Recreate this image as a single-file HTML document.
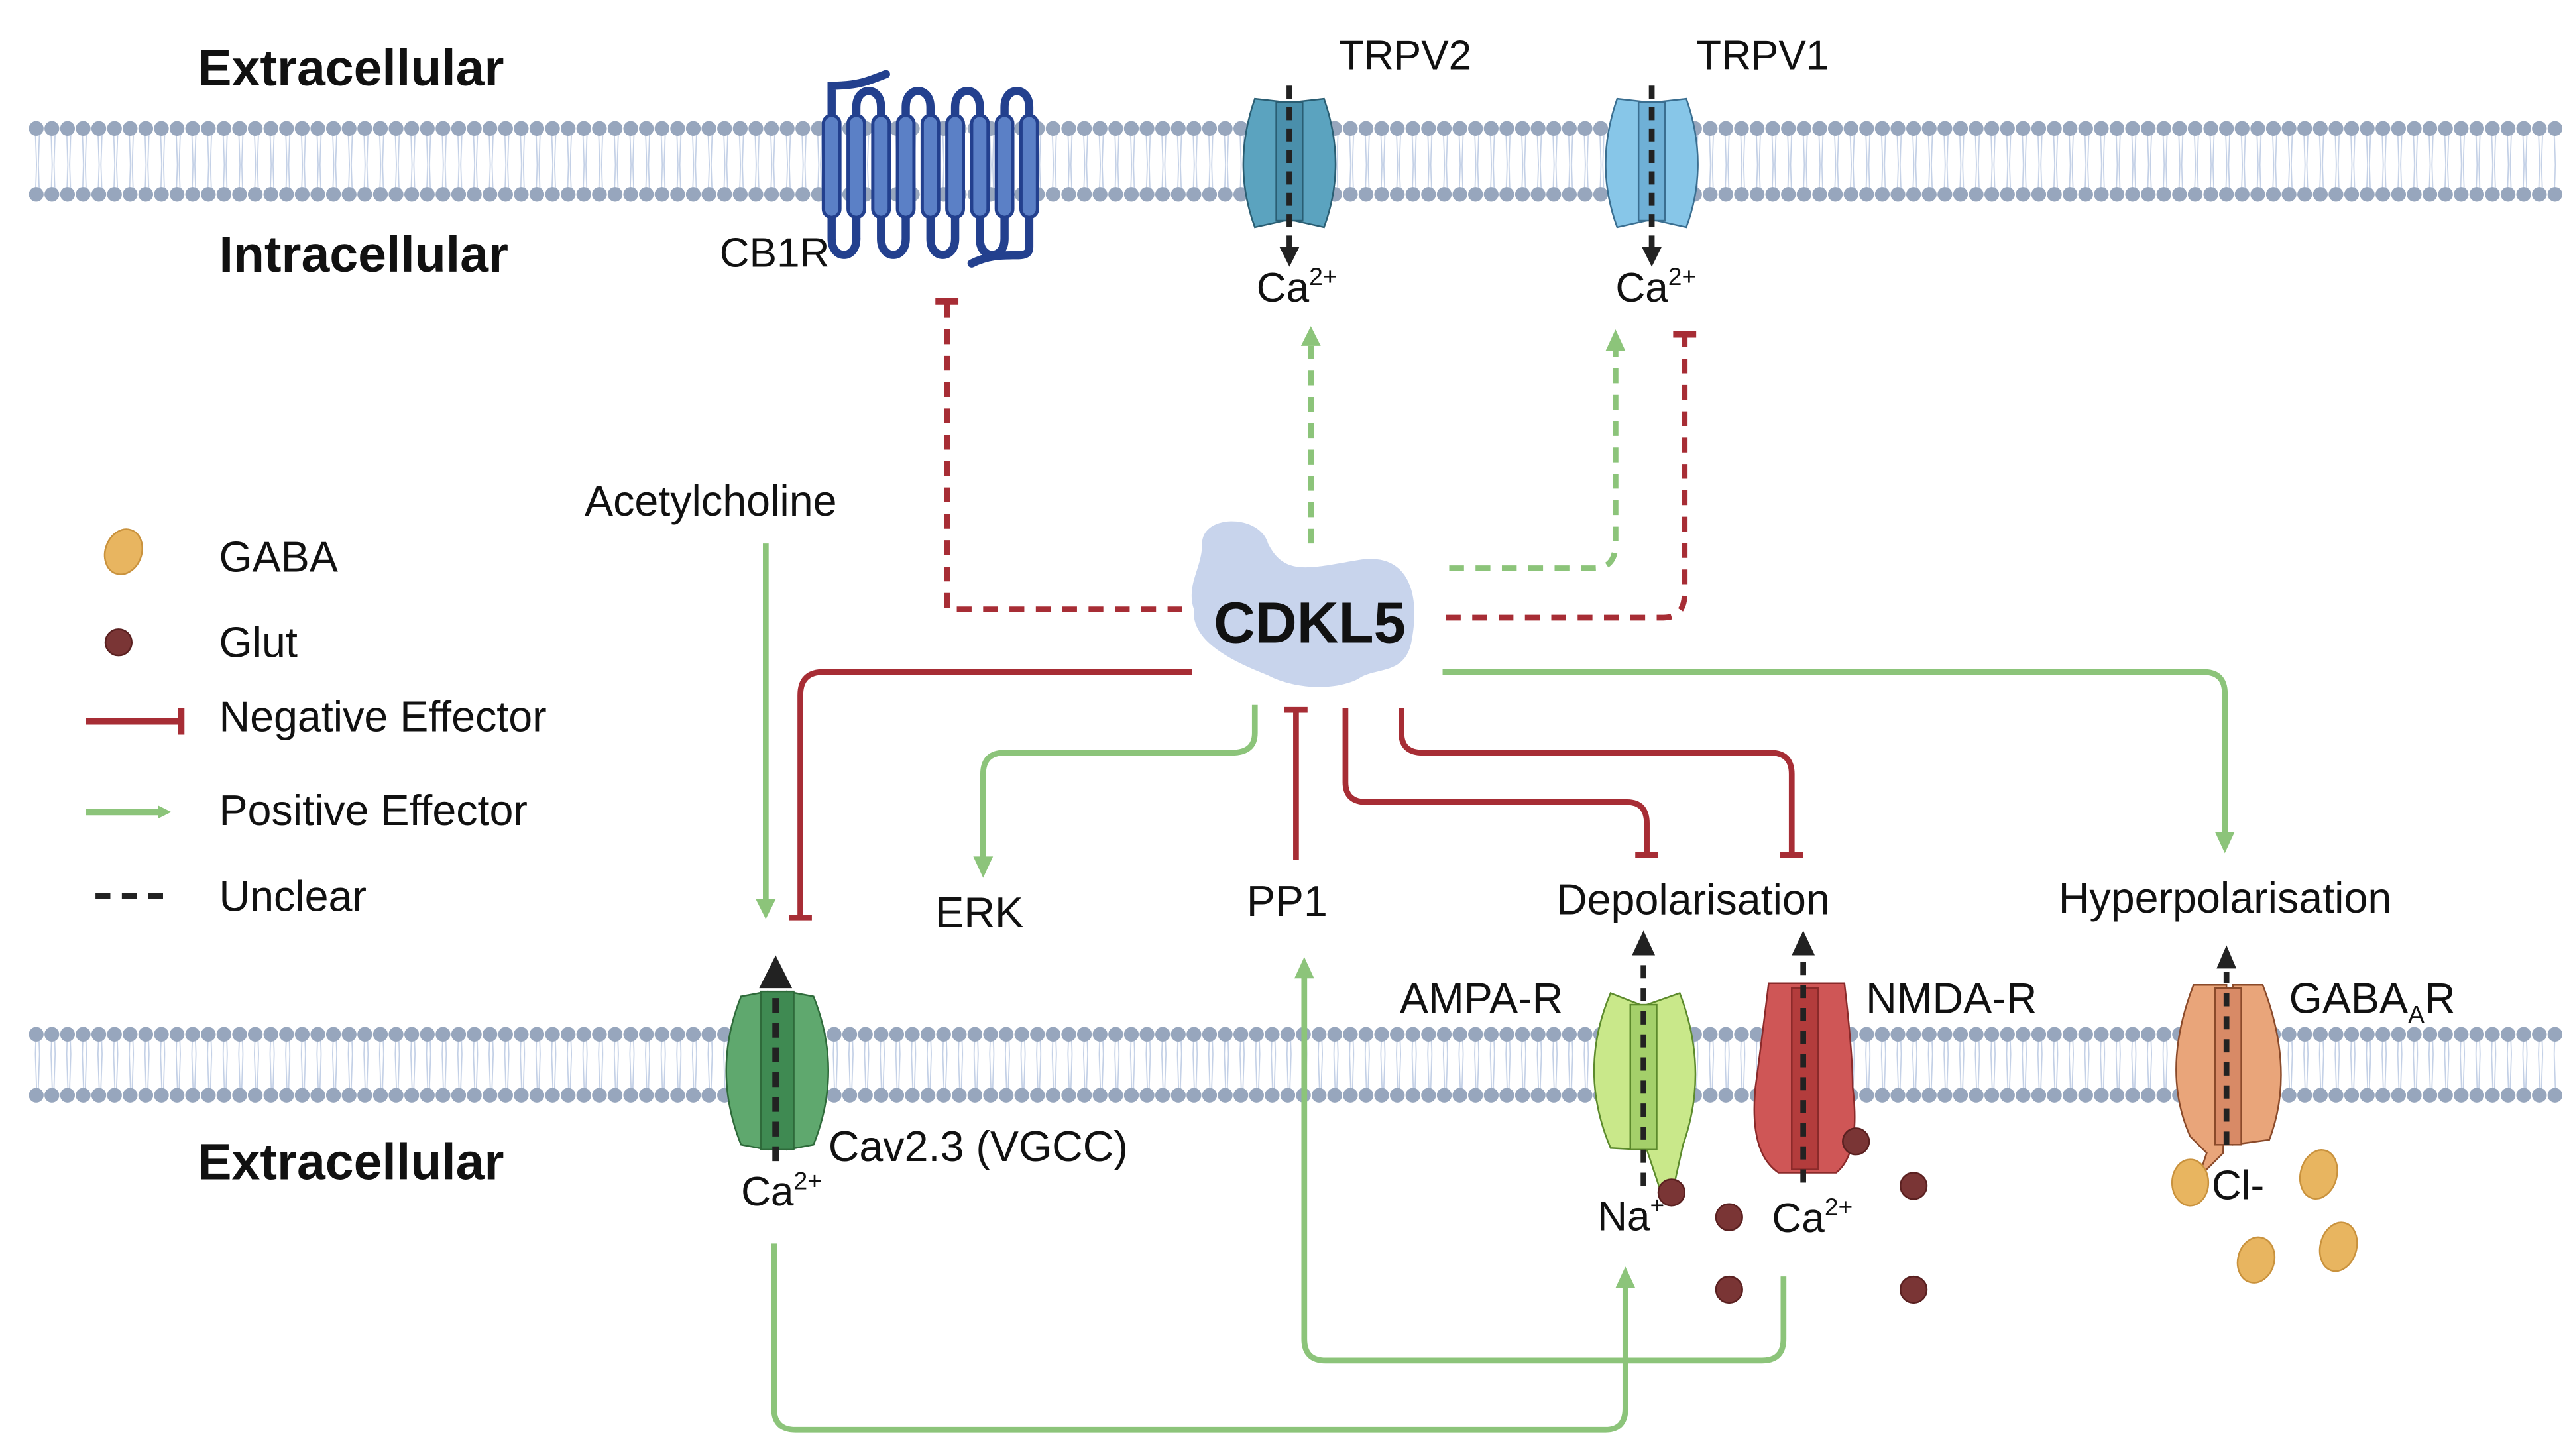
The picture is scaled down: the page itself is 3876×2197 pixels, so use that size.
<!DOCTYPE html>
<html><head><meta charset="utf-8"><style>
html,body{margin:0;padding:0;background:#fff;}
svg{display:block;}
text{font-family:"Liberation Sans",sans-serif;fill:#111;}
.b{font-weight:bold;}
</style></head><body>
<svg width="3876" height="2197" viewBox="0 0 1560 884" preserveAspectRatio="none" xmlns="http://www.w3.org/2000/svg">
<defs>
<pattern id="tails" x="18" y="0" width="9.5" height="40" patternUnits="userSpaceOnUse">
<path d="M3.5 0 L4.2 20 L3.5 40 M6 0 L5.3 20 L6 40" stroke="#c3d0e6" stroke-width="0.7" fill="none"/>
</pattern>
<marker id="ga" markerWidth="8" markerHeight="8" refX="4" refY="4" orient="auto" markerUnits="userSpaceOnUse" viewBox="0 0 8 8"><path d="M0 0 L8 4 L0 8 Z" fill="#8cc47a"/></marker>
</defs>

<!-- membranes -->
<rect x="18" y="82" width="1534" height="34" fill="url(#tails)"/>
<line x1="22" y1="78" x2="1552" y2="78" stroke="#97a6bd" stroke-width="9" stroke-linecap="round" stroke-dasharray="0 9.5"/>
<line x1="22" y1="118" x2="1552" y2="118" stroke="#97a6bd" stroke-width="9" stroke-linecap="round" stroke-dasharray="0 9.5"/>
<rect x="18" y="630" width="1534" height="34" fill="url(#tails)"/>
<line x1="22" y1="628" x2="1552" y2="628" stroke="#97a6bd" stroke-width="9" stroke-linecap="round" stroke-dasharray="0 9.5"/>
<line x1="22" y1="665" x2="1552" y2="665" stroke="#97a6bd" stroke-width="9" stroke-linecap="round" stroke-dasharray="0 9.5"/>

<!-- region labels -->
<text x="120" y="52" font-size="31" class="b">Extracellular</text>
<text x="133" y="165" font-size="31" class="b">Intracellular</text>
<text x="120" y="716" font-size="31" class="b">Extracellular</text>

<!-- CB1R -->
<g fill="none" stroke="#23408e" stroke-width="5" stroke-linecap="round">
<path d="M538 45 C525 50 520 52 505 52 L505 145 C505 158 520 158 520 145"/>
<path d="M520 145 L520 65 C520 52 535 52 535 65 L535 145 C535 158 550 158 550 145 L550 65 C550 52 565 52 565 65 L565 145 C565 158 580 158 580 145 L580 65 C580 52 595 52 595 65 L595 145 C595 158 610 158 610 145 L610 65 C610 52 625 52 625 65 L625 150 C625 160 610 150 590 160"/>
</g>
<g fill="#5b80c6" stroke="#23408e" stroke-width="2">
<rect x="500" y="70" width="10" height="62" rx="5"/><rect x="515" y="70" width="10" height="62" rx="5"/>
<rect x="530" y="70" width="10" height="62" rx="5"/><rect x="545" y="70" width="10" height="62" rx="5"/>
<rect x="560" y="70" width="10" height="62" rx="5"/><rect x="575" y="70" width="10" height="62" rx="5"/>
<rect x="590" y="70" width="10" height="62" rx="5"/><rect x="605" y="70" width="10" height="62" rx="5"/>
<rect x="620" y="70" width="10" height="62" rx="5"/>
</g>
<text x="437" y="162" font-size="25">CB1R</text>

<!-- TRPV2 -->
<g stroke="#2a5e73" stroke-width="1">
<path d="M762 60 Q748 100 762 138 L780 134 L780 62 Z" fill="#5ba3bf"/>
<path d="M804 60 Q818 100 804 138 L786 134 L786 62 Z" fill="#5ba3bf"/>
<rect x="775" y="62" width="16" height="72" fill="#4a8fab"/>
</g>
<line x1="783" y1="52" x2="783" y2="150" stroke="#222" stroke-width="3.5" stroke-dasharray="8 5"/>
<path d="M777 150 L783 162 L789 150 Z" fill="#222"/>
<text x="813" y="42" font-size="25">TRPV2</text>
<text x="763" y="183" font-size="25">Ca<tspan font-size="15" dy="-10">2+</tspan></text>

<!-- TRPV1 -->
<g stroke="#3a6e90" stroke-width="1">
<path d="M982 60 Q968 100 982 138 L1000 134 L1000 62 Z" fill="#87c6e8"/>
<path d="M1024 60 Q1038 100 1024 138 L1006 134 L1006 62 Z" fill="#87c6e8"/>
<rect x="995" y="62" width="16" height="72" fill="#6fb0d6"/>
</g>
<line x1="1003" y1="52" x2="1003" y2="150" stroke="#222" stroke-width="3.5" stroke-dasharray="8 5"/>
<path d="M997 150 L1003 162 L1009 150 Z" fill="#222"/>
<text x="1030" y="42" font-size="25">TRPV1</text>
<text x="981" y="183" font-size="25">Ca<tspan font-size="15" dy="-10">2+</tspan></text>

<!-- legend -->
<ellipse cx="75" cy="335" rx="11" ry="14" fill="#e8b560" stroke="#c9923d" transform="rotate(20 75 335)"/>
<text x="133" y="347" font-size="26">GABA</text>
<circle cx="72" cy="390" r="8" fill="#7a3535" stroke="#5a2020"/>
<text x="133" y="399" font-size="26">Glut</text>
<line x1="52" y1="438" x2="110" y2="438" stroke="#a72d35" stroke-width="4"/><line x1="110" y1="430" x2="110" y2="446" stroke="#a72d35" stroke-width="4"/>
<text x="133" y="444" font-size="26">Negative Effector</text>
<line x1="52" y1="493" x2="100" y2="493" stroke="#8cc47a" stroke-width="4" marker-end="url(#ga)"/>
<text x="133" y="501" font-size="26">Positive Effector</text>
<line x1="58" y1="544" x2="106" y2="544" stroke="#222" stroke-width="4" stroke-dasharray="9 7"/>
<text x="133" y="553" font-size="26">Unclear</text>

<!-- CDKL5 -->
<path d="M730 330 C730 312 765 312 770 330 C780 350 795 345 825 340 C855 335 863 360 857 390 C853 410 835 405 825 412 C810 420 785 418 770 410 C750 402 723 390 725 370 C720 355 730 345 730 330 Z" fill="#c8d4ec"/>
<text x="737" y="390" font-size="35" class="b">CDKL5</text>

<!-- dashed connectors -->
<g fill="none" stroke-width="3.5" stroke-dasharray="9 7">
<path d="M575 184 L575 370 L722 370" stroke="#a72d35"/>
<path d="M878 375 L1010 375 Q1023 375 1023 360 L1023 205" stroke="#a72d35"/>
<path d="M796 330 L796 210" stroke="#8cc47a"/>
<path d="M880 345 L968 345 Q981 345 981 330 L981 210" stroke="#8cc47a"/>
</g>
<line x1="568" y1="183" x2="582" y2="183" stroke="#a72d35" stroke-width="4"/>
<line x1="1016" y1="203" x2="1030" y2="203" stroke="#a72d35" stroke-width="4"/>
<path d="M790 210 L796 198 L802 210 Z" fill="#8cc47a"/>
<path d="M975 213 L981 200 L987 213 Z" fill="#8cc47a"/>

<!-- solid red -->
<g fill="none" stroke="#a72d35" stroke-width="3.5">
<path d="M724 408 L500 408 Q486 408 486 422 L486 557"/>
<line x1="479" y1="557" x2="493" y2="557"/>
<path d="M787 430 L787 522"/><line x1="780" y1="431" x2="794" y2="431"/>
<path d="M817 430 L817 475 Q817 487 830 487 L988 487 Q1000 487 1000 500 L1000 519"/>
<line x1="993" y1="519" x2="1007" y2="519"/>
<path d="M851 430 L851 445 Q851 457 864 457 L1075 457 Q1088 457 1088 470 L1088 519"/>
<line x1="1081" y1="519" x2="1095" y2="519"/>
</g>

<!-- solid green -->
<g fill="none" stroke="#8cc47a" stroke-width="3.5">
<path d="M465 330 L465 548"/>
<path d="M762 428 L762 445 Q762 457 748 457 L610 457 Q597 457 597 470 L597 522"/>
<path d="M876 408 L1338 408 Q1351 408 1351 421 L1351 506"/>
<path d="M470 755 L470 855 Q470 868 483 868 L975 868 Q987 868 987 855 L987 780"/>
<path d="M1083 775 L1083 813 Q1083 826 1070 826 L805 826 Q792 826 792 813 L792 592"/>
</g>
<path d="M459 546 L465 558 L471 546 Z" fill="#8cc47a"/>
<path d="M591 520 L597 533 L603 520 Z" fill="#8cc47a"/>
<path d="M1345 505 L1351 518 L1357 505 Z" fill="#8cc47a"/>
<path d="M981 782 L987 769 L993 782 Z" fill="#8cc47a"/>
<path d="M786 594 L792 581 L798 594 Z" fill="#8cc47a"/>

<text x="355" y="313" font-size="26">Acetylcholine</text>
<text x="568" y="563" font-size="26">ERK</text>
<text x="757" y="556" font-size="26">PP1</text>
<text x="945" y="555" font-size="26">Depolarisation</text>
<text x="1250" y="554" font-size="26">Hyperpolarisation</text>

<!-- Cav2.3 -->
<g stroke="#2e6a3a" stroke-width="1">
<path d="M450 605 Q432 650 450 695 L466 698 L466 602 Z" fill="#5fa86e"/>
<path d="M494 605 Q512 650 494 695 L478 698 L478 602 Z" fill="#5fa86e"/>
<rect x="462" y="602" width="20" height="96" fill="#3f8a52"/>
</g>
<line x1="471" y1="705" x2="471" y2="600" stroke="#222" stroke-width="4" stroke-dasharray="9 6"/>
<path d="M461 600 L471 580 L481 600 Z" fill="#222"/>
<text x="503" y="705" font-size="26">Cav2.3 (VGCC)</text>
<text x="450" y="732" font-size="25">Ca<tspan font-size="15" dy="-10">2+</tspan></text>

<!-- AMPA -->
<g stroke="#5c8a2c" stroke-width="1">
<path d="M978 603 Q958 650 978 697 L996 698 L996 610 Z" fill="#c9e88a"/>
<path d="M1020 603 Q1038 650 1022 695 L1016 722 L1008 722 L1000 698 L1000 610 Z" fill="#c9e88a"/>
<rect x="990" y="610" width="16" height="88" fill="#a4d06a"/>
</g>
<line x1="998" y1="720" x2="998" y2="580" stroke="#222" stroke-width="3.5" stroke-dasharray="8 6"/>
<path d="M991 580 L998 565 L1005 580 Z" fill="#222"/>
<text x="850" y="615" font-size="26">AMPA-R</text>

<!-- NMDA -->
<g stroke="#8a2a2a" stroke-width="1">
<path d="M1074 597 L1120 597 Q1125 640 1125 660 Q1130 700 1115 712 L1080 712 Q1062 700 1066 660 Q1070 630 1074 597 Z" fill="#cf5656"/>
<rect x="1088" y="600" width="16" height="110" fill="#b33c3c"/>
</g>
<line x1="1095" y1="718" x2="1095" y2="580" stroke="#222" stroke-width="3.5" stroke-dasharray="8 6"/>
<path d="M1088 580 L1095 565 L1102 580 Z" fill="#222"/>
<text x="1133" y="615" font-size="26">NMDA-R</text>

<!-- GABAA -->
<g stroke="#8a4a2a" stroke-width="1">
<path d="M1332 598 Q1312 650 1330 690 L1340 700 L1335 715 L1350 700 L1352 598 Z" fill="#e9a57a"/>
<path d="M1374 598 Q1394 650 1378 692 L1356 695 L1356 598 Z" fill="#e9a57a"/>
<rect x="1345" y="600" width="16" height="95" fill="#d88a66"/>
</g>
<line x1="1352" y1="695" x2="1352" y2="590" stroke="#222" stroke-width="3.5" stroke-dasharray="8 6"/>
<path d="M1346 588 L1352 574 L1358 588 Z" fill="#222"/>
<text x="1390" y="615" font-size="26">GABA<tspan font-size="15" dy="6">A</tspan><tspan dy="-6">R</tspan></text>

<text x="970" y="747" font-size="25">Na<tspan font-size="15" dy="-10">+</tspan></text>
<text x="1076" y="748" font-size="25">Ca<tspan font-size="15" dy="-10">2+</tspan></text>
<text x="1343" y="728" font-size="25">Cl-</text>

<g fill="#7a3535" stroke="#5a2020">
<circle cx="1015" cy="724" r="8"/><circle cx="1050" cy="739" r="8"/><circle cx="1127" cy="693" r="8"/>
<circle cx="1162" cy="720" r="8"/><circle cx="1050" cy="783" r="8"/><circle cx="1162" cy="783" r="8"/>
</g>
<g fill="#e8b560" stroke="#c9923d">
<ellipse cx="1330" cy="718" rx="11" ry="14"/><ellipse cx="1408" cy="713" rx="11" ry="15" transform="rotate(15 1408 713)"/>
<ellipse cx="1370" cy="765" rx="11" ry="14" transform="rotate(15 1370 765)"/><ellipse cx="1420" cy="757" rx="11" ry="15" transform="rotate(15 1420 757)"/>
</g>
</svg>
</body></html>
